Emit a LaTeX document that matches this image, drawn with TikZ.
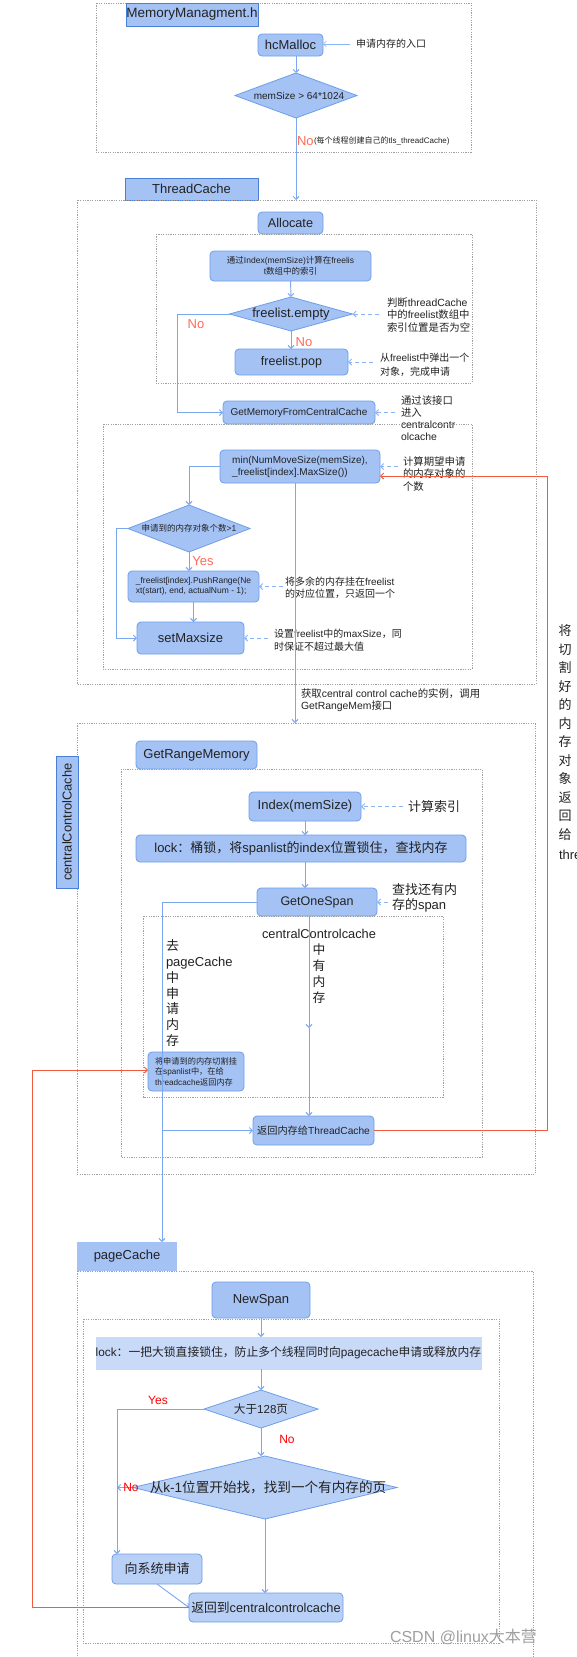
\documentclass[tikz,border=0pt]{standalone}
\usepackage{fontspec}
\setmainfont{Liberation Sans}
\newfontfamily\cjkfont{Noto Sans CJK SC}
\newfontfamily\latfont{Liberation Sans}
\XeTeXinterchartokenstate=1
\newXeTeXintercharclass\CJKcls
\makeatletter
\def\setcjkrange#1#2{\count@=#1\relax\loop\XeTeXcharclass\count@=\CJKcls\relax\ifnum\count@<#2\relax\advance\count@\@ne\repeat}
\setcjkrange{"3000}{"303F}
\setcjkrange{"4E00}{"9FFF}
\setcjkrange{"FF00}{"FFEF}
\makeatother
\XeTeXinterchartoks 0 \CJKcls = {\cjkfont}
\XeTeXinterchartoks 4095 \CJKcls = {\cjkfont}
\XeTeXinterchartoks \CJKcls 0 = {\latfont}
\XeTeXinterchartoks \CJKcls 4095 = {\latfont}
\usetikzlibrary{shapes.geometric,arrows.meta}
\definecolor{boxfill}{HTML}{A4C2F4}
\definecolor{boxdraw}{HTML}{6D9EEB}
\definecolor{lblfill}{HTML}{A4C2F4}
\definecolor{lbldraw}{HTML}{4A7FD8}
\definecolor{lightfill}{HTML}{C9DAF8}
\definecolor{midfill}{HTML}{B9D0F6}
\definecolor{flow}{HTML}{7BA7EE}
\definecolor{notec}{HTML}{8AB4F8}
\definecolor{redl}{HTML}{F25C3C}
\definecolor{redt}{HTML}{FF6B5A}
\definecolor{regcol}{HTML}{A0A0A0}
\definecolor{txt}{HTML}{222222}
\newcommand\myfs[2]{\fontsize{#1}{#2}\selectfont}
\begin{document}
\begin{tikzpicture}[x=1pt,y=-1pt,
 every node/.style={inner sep=0pt,outer sep=0pt,text=txt},
 rbox/.style={draw=boxdraw, fill=boxfill, rounded corners=4pt, line width=0.8pt},
 lbl/.style={draw=lbldraw, fill=lblfill, line width=0.8pt},
 dia/.style={shape=diamond, draw=boxdraw, fill=boxfill, line width=0.8pt},
 region/.style={draw=regcol, line width=0.6pt, dash pattern=on 1.2pt off 1.2pt},
 flowline/.style={draw=flow, line width=0.9pt},
 arr/.style={flowline, -{Straight Barb[length=3pt,width=6pt]}},
 notearr/.style={draw=notec, line width=0.9pt, dash pattern=on 4pt off 3pt, -{Straight Barb[length=3pt,width=6pt]}},
 redarr/.style={draw=redl, line width=0.9pt, -{Straight Barb[length=3pt,width=6pt]}},
 yn/.style={text=redt, font=\myfs{13}{15}},
 ynb/.style={text=red, font=\myfs{12}{14}},
]
\fill[white] (0,0) rectangle (577,1657);
\useasboundingbox (0,0) rectangle (577,1657);

% ---------- MemoryManagment.h ----------
\draw[region] (96,3) rectangle (471,152);
\node[lbl, minimum width=132pt, minimum height=23pt, font=\myfs{13.5}{16}] (mm) at (192,14.5) {MemoryManagment.h};
\node[rbox, minimum width=65pt, minimum height=22pt, font=\myfs{13}{15}] (hc) at (290.5,45) {hcMalloc};
\node[anchor=west, font=\myfs{10}{12}] (n1) at (356,44) {申请内存的入口};
\draw[arr, draw=notec, line width=0.6pt, shorten <=6pt] (n1.west) -- (n1.west -| hc.east);
\node[dia, minimum width=122pt, minimum height=45pt] (d1) at (296,95.5) {};
\node[font=\myfs{10}{12}] (d1t) at (299,95.5) {memSize > 64*1024};
\draw[arr] (d1.north |- hc.south) -- (d1.north);
\coordinate (tcin) at (296,200);
\draw[arr] (d1.south) -- (tcin);
\node[yn, anchor=west] (no1) at (297,141) {No};
\node[anchor=west, font=\myfs{8}{10}] (no1t) at (314,141) {(每个线程创建自己的tls\_threadCache)};

% ---------- ThreadCache ----------
\node[lbl, minimum width=133pt, minimum height=22pt, font=\myfs{13}{15}] (tc) at (191.5,189) {ThreadCache};
\draw[region] (77,200) rectangle (536,684);
\node[rbox, minimum width=65pt, minimum height=22pt, font=\myfs{12.7}{15}] (al) at (290.5,223) {Allocate};
\draw[region] (156,234) rectangle (472,383);
\node[rbox, minimum width=161pt, minimum height=30pt, align=center, font=\myfs{8.5}{11}] (idx) at (290.5,266) {通过Index(memSize)计算在freelis\\t数组中的索引};
\node[dia, minimum width=123pt, minimum height=34pt] (d2) at (291,314) {};
\node[font=\myfs{13}{15}] (d2t) at (291,314) {freelist.empty};
\draw[arr] (idx.south) -- (d2.north);
\node[anchor=west, align=left, font=\myfs{10.4}{12.5}] (n2) at (387,315) {判断threadCache\\中的freelist数组中\\索引位置是否为空};
\draw[notearr, shorten <=8pt] (d2.east -| n2.west) -- (d2.east);
\node[rbox, minimum width=113pt, minimum height=26pt, font=\myfs{12.5}{15}] (pop) at (291.5,362) {freelist.pop};
\draw[arr] (d2.south) -- (d2.south |- pop.north);
\node[yn] (no2) at (304,342) {No};
\node[yn] (no3) at (196,324) {No};
\node[anchor=west, align=left, font=\myfs{10}{14}] (n3) at (380,365) {从freelist中弹出一个\\对象，完成申请};
\draw[notearr, shorten <=7pt] (pop.east -| n3.west) -- (pop.east);
\node[rbox, minimum width=152pt, minimum height=23pt, font=\myfs{10}{12}] (gm) at (299,412.5) {GetMemoryFromCentralCache};
\coordinate (lx1) at (177,314);
\draw[arr] (d2.west) -- (lx1) |- (gm.west);
\node[anchor=west, align=left, font=\myfs{10.4}{12}] (n4) at (401,418) {通过该接口\\进入\\centralcontr\\olcache};
\draw[notearr, shorten <=6pt] (gm.east -| n4.west) -- (gm.east);
\draw[region] (103,424) rectangle (472,669);
\node[rbox, minimum width=160pt, minimum height=33pt, align=left, font=\myfs{10}{12}] (mn) at (300,466.5) {min(NumMoveSize(memSize),\\\_freelist[index].MaxSize())};
\node[anchor=west, align=left, font=\myfs{10.4}{12.5}] (n5) at (403,474) {计算期望申请\\的内存对象的\\个数};
\draw[notearr, shorten <=5pt] (n5.west |- mn.east) -- (mn.east);
\node[dia, minimum width=122pt, minimum height=47pt] (d3) at (189,528.5) {};
\node[font=\myfs{8.5}{10}] (d3t) at (189,528.5) {申请到的内存对象个数>1};
\draw[arr] (mn.west) -| (d3.north);
\node[yn] (yes1) at (203,561) {Yes};
\node[rbox, minimum width=131pt, minimum height=31pt, align=left, font=\myfs{8.5}{10.5}] (ps) at (193.5,586.5) {\_freelist[index].PushRange(Ne\\xt(start), end, actualNum - 1);};
\draw[arr] (d3.south) -- (d3.south |- ps.north);
\node[anchor=west, align=left, font=\myfs{10}{12}] (n6) at (285,588) {将多余的内存挂在freelist\\的对应位置，只返回一个};
\draw[notearr, shorten <=2pt] (ps.east -| n6.west) -- (ps.east);
\node[rbox, minimum width=107pt, minimum height=32pt, font=\myfs{13}{15}] (sm) at (190.5,638) {setMaxsize};
\draw[arr] (ps.south) -- (ps.south |- sm.north);
\coordinate (lx2) at (116,528.5);
\draw[arr] (d3.west) -- (lx2) |- (sm.west);
\node[anchor=west, align=left, font=\myfs{10}{13}] (n7) at (274,640) {设置freelist中的maxSize，同\\时保证不超过最大值};
\draw[notearr, shorten <=6pt] (sm.east -| n7.west) -- (sm.east);
\coordinate (gin) at (295,723);
\draw[arr] (mn.south -| gin) -- (gin);
\node[anchor=west, align=left, font=\myfs{10.4}{12}] (n8) at (301,700) {获取central control cache的实例，调用\\GetRangeMem接口};

% ---------- centralControlCache ----------
\draw[region] (77,723) rectangle (535,1174);
\node[lbl, rotate=90, minimum width=132pt, minimum height=22pt, font=\myfs{12.9}{15}] (ccl) at (67,822) {centralControlCache};
\node[rbox, minimum width=121pt, minimum height=28pt, font=\myfs{13}{15}] (grm) at (196.5,755) {GetRangeMemory};
\draw[region] (121,769) rectangle (482,1157);
\node[rbox, minimum width=112pt, minimum height=29pt, font=\myfs{13}{15}] (ix) at (305,806.5) {Index(memSize)};
\node[anchor=west, font=\myfs{13}{15}] (n9) at (408,806.5) {计算索引};
\draw[notearr, shorten <=5pt] (n9.west) -- (ix.east);
\node[rbox, minimum width=330pt, minimum height=27pt, font=\myfs{13}{15}] (lk) at (301,848.5) {lock：桶锁，将spanlist的index位置锁住，查找内存};
\draw[arr] (ix.south) -- (ix.south |- lk.north);
\node[rbox, minimum width=120pt, minimum height=28pt, font=\myfs{12.5}{15}] (gos) at (317,902) {GetOneSpan};
\draw[arr] (ix.south |- lk.south) -- (ix.south |- gos.north);
\node[anchor=west, align=left, font=\myfs{13}{15}] (n10) at (392,897.5) {查找还有内\\存的span};
\draw[notearr, shorten <=4pt] (n10.west |- gos.east) -- (gos.east);
\draw[region] (143,916) rectangle (443,1097);
\node[anchor=north, align=center, font=\myfs{12.8}{16}] (cct) at (319,929) {centralControlcache\\中\\有\\内\\存};
\node[anchor=north west, align=left, font=\myfs{13}{15.7}] (gpt) at (166,940) {去\\pageCache\\中\\申\\请\\内\\存};
\node[rbox, minimum width=96pt, minimum height=39pt, align=left, font=\myfs{8.2}{10.5}] (cut) at (196,1071.5) {将申请到的内存切割挂\\在spanlist中，在给\\threadcache返回内存};
\node[rbox, minimum width=121pt, minimum height=29pt, font=\myfs{10.2}{12}] (ret1) at (313.5,1130.5) {返回内存给ThreadCache};
\coordinate (mid) at (309,1028);
\draw[arr] (gos.south -| mid) -- (mid);
\draw[arr] (mid) -- (mid |- ret1.north);
\coordinate (pcin) at (162,1242);
\draw[arr] (gos.west) -| (pcin);
\draw[arr] (ret1.west -| pcin) -- (ret1.west);
\coordinate (rc) at (547,476);
\draw[redarr] (ret1.east) -| (rc) -- (mn.east |- rc);
\node[anchor=north, align=center, font=\myfs{13}{18.5}] (rt) at (565,625) {将\\切\\割\\好\\的\\内\\存\\对\\象\\返\\回\\给};
\node[anchor=west, font=\myfs{13}{15}] (rt2) at (559,855) {thre};

% ---------- pageCache ----------
\node[fill=lblfill, minimum width=100pt, minimum height=29pt, font=\myfs{13}{15}] (pc) at (127,1256.5) {pageCache};
\draw[region] (77,1271) rectangle (533,1680);
\node[rbox, minimum width=98pt, minimum height=36pt, font=\myfs{13}{15}] (ns) at (261,1300) {NewSpan};
\draw[region] (83,1319) rectangle (499,1643);
\node[fill=lightfill, draw=lightfill, minimum width=385pt, minimum height=32pt, font=\myfs{11.8}{14}] (lk2) at (288.5,1353) {lock：一把大锁直接锁住，防止多个线程同时向pagecache申请或释放内存};
\draw[arr] (ns.south) -- (ns.south |- lk2.north);
\node[dia, fill=midfill, minimum width=114pt, minimum height=38pt] (d4) at (261,1409) {};
\node[font=\myfs{11.6}{14}] (d4t) at (261,1409) {大于128页};
\draw[arr] (lk2.south -| d4.north) -- (d4.north);
\node[ynb] (yes2) at (158,1400) {Yes};
\node[ynb] (no4) at (287,1439) {No};
\node[dia, fill=midfill, minimum width=264pt, minimum height=63pt] (d5) at (265,1487.5) {};
\node[font=\myfs{13.6}{16}] (d5t) at (268,1487.5) {从k-1位置开始找，找到一个有内存的页};
\draw[arr] (d4.south) -- (d4.south |- d5.north);
\node[rbox, fill=midfill, minimum width=90pt, minimum height=30pt, font=\myfs{13}{15}] (sys) at (157,1569) {向系统申请};
\coordinate (yl) at (117,1409);
\draw[arr] (d4.west) -- (yl) -- (yl |- sys.north);
\draw[arr] (d5.west) -- (d5.west -| yl);
\node[ynb] (no5) at (131,1487.5) {No};
\node[rbox, fill=midfill, minimum width=154pt, minimum height=29pt, font=\myfs{12.8}{15}] (ret2) at (266,1607.5) {返回到centralcontrolcache};
\draw[arr] (d5.south) -- (d5.south |- ret2.north);
\draw[arr] (sys.south) -- (ret2.west);
\coordinate (rl) at (32,1070);
\draw[redarr] (ret2.west) -| (rl) -- (cut.west |- rl);
\node[anchor=west, text=gray!75, font=\myfs{16}{18}] (wm) at (390,1637) {CSDN @linux大本营};
\end{tikzpicture}
\end{document}
